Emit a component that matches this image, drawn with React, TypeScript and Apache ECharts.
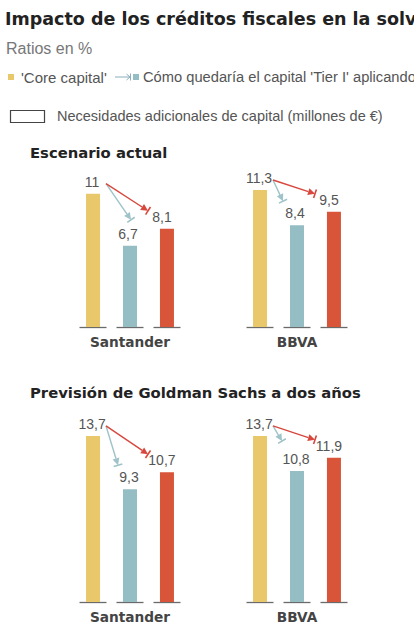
import React, { useEffect, useRef } from "react";
import * as echarts from "echarts";

const banks = ["Santander", "BBVA"];
// Escenario actual
const coreActual = [11, 11.3];
const tierActual = [6.7, 8.4];
const thirdActual = [8.1, 9.5];
// Previsión de Goldman Sachs a dos años
const coreGS = [13.7, 13.7];
const tierGS = [9.3, 10.8];
const thirdGS = [10.7, 11.9];

const titleText = "Impacto de los créditos fiscales en la solvencia";
const subtitleText = "Ratios en %";
const legendCore = "'Core capital'";
const legendTier = "Cómo quedaría el capital 'Tier I' aplicando";
const legendNeeds = "Necesidades adicionales de capital (millones de €)";
const panelTitles = ["Escenario actual", "Previsión de Goldman Sachs a dos años"];

const FONT = '"Liberation Sans", Arial, Helvetica, sans-serif';
const BOLD_FONT = '"DejaVu Sans", Verdana, sans-serif';
const YELLOW = "#E9C76B";
const TEAL = "#94BEC4";
const RED = "#D9553A";
const RED_ARROW = "#D8473D";
const TEAL_ARROW = "#9EC3C9";
const STEP = 37;
// offset of the teal arrow tip from the teal bar top, per panel/bank
const tealArrowDx = [
  [1, -14],
  [-12, -15],
];
const tealArrowDy = [
  [-26, -24],
  [-24, -30],
];

function fmt(v: number) {
  return String(v).replace(".", ",");
}

function arrow(s: number[], e: number[], color: string) {
  const dx = e[0] - s[0];
  const dy = e[1] - s[1];
  const L = Math.hypot(dx, dy) || 1;
  const ux = dx / L;
  const uy = dy / L;
  const px = -uy;
  const py = ux;
  const hl = 7;
  const hw = 3.5;
  const b = [e[0] - ux * hl, e[1] - uy * hl];
  return [
    {
      type: "line",
      shape: { x1: s[0], y1: s[1], x2: b[0], y2: b[1] },
      style: { stroke: color, lineWidth: 1.4 },
    },
    {
      type: "polygon",
      shape: {
        points: [
          [e[0], e[1]],
          [b[0] + px * hw, b[1] + py * hw],
          [b[0] - px * hw, b[1] - py * hw],
        ],
      },
      style: { fill: color },
    },
    {
      type: "line",
      shape: {
        x1: e[0] + px * 4.5,
        y1: e[1] + py * 4.5,
        x2: e[0] - px * 4.5,
        y2: e[1] - py * 4.5,
      },
      style: { stroke: color, lineWidth: 1.6 },
    },
  ];
}

function barSeries(values: number[], name: string, color: string, gi: number, offX: number) {
  return {
    type: "bar",
    name,
    xAxisIndex: gi,
    yAxisIndex: gi,
    data: values,
    barWidth: 14,
    barGap: "164%",
    silent: true,
    itemStyle: { color },
    label: {
      show: true,
      position: "top",
      distance: 5,
      offset: [offX, 0],
      color: "#555",
      fontSize: 14,
      fontFamily: FONT,
      formatter: (p: any) => fmt(p.value),
    },
  };
}

function baselineSeries(gi: number) {
  return {
    type: "custom",
    xAxisIndex: gi,
    yAxisIndex: gi,
    silent: true,
    clip: false,
    data: banks.map((_, i) => [i, 0]),
    renderItem: (_params: any, api: any) => {
      const c = api.coord([api.value(0), 0]);
      const children = [-1, 0, 1].map((k) => ({
        type: "line",
        shape: {
          x1: c[0] + k * STEP - 13.5,
          y1: c[1] + 0.5,
          x2: c[0] + k * STEP + 13.5,
          y2: c[1] + 0.5,
        },
        style: { stroke: "#6a6a6a", lineWidth: 1.3 },
      }));
      return { type: "group", children };
    },
  };
}

function arrowSeries(gi: number, core: number[], tier: number[], third: number[]) {
  return {
    type: "custom",
    xAxisIndex: gi,
    yAxisIndex: gi,
    silent: true,
    clip: false,
    z: 5,
    data: banks.map((_, i) => [i, core[i], tier[i], third[i]]),
    renderItem: (_params: any, api: any) => {
      const i = api.value(0);
      const c = api.coord([i, api.value(1)]);
      const t = api.coord([i, api.value(2)]);
      const r = api.coord([i, api.value(3)]);
      const s = [c[0] - STEP + 13, c[1] - 10];
      const te = [t[0] + tealArrowDx[gi][i], t[1] + tealArrowDy[gi][i]];
      const re = [r[0] + STEP - 19, r[1] - 18];
      return {
        type: "group",
        children: [...arrow(s, te, TEAL_ARROW), ...arrow(s, re, RED_ARROW)],
      };
    },
  };
}

export default function App() {
  const ref = useRef<HTMLDivElement>(null);
  useEffect(() => {
    if (!ref.current) return;
    const chart = echarts.init(ref.current, undefined, { renderer: "svg" });
    const grids = [
      { left: 46.5, width: 334, top: 157.3, height: 169.7 },
      { left: 46.5, width: 334, top: 432.3, height: 169.7 },
    ];
    const xAxes = grids.map((_, gi) => ({
      type: "category",
      gridIndex: gi,
      data: banks,
      axisLine: { show: false },
      axisTick: { show: false },
      axisLabel: {
        fontSize: 13.7,
        fontWeight: "bold",
        color: "#444",
        margin: 8,
        fontFamily: BOLD_FONT,
      },
    }));
    const yAxes = grids.map((_, gi) => ({
      type: "value",
      gridIndex: gi,
      min: 0,
      max: 14,
      show: false,
      splitLine: { show: false },
    }));
    const txt = (
      text: string,
      x: number,
      y: number,
      size: number,
      color: string,
      bold = false
    ) => ({
      type: "text",
      x,
      y,
      silent: true,
      style: {
        text,
        fill: color,
        fontSize: size,
        fontWeight: bold ? "bold" : "normal",
        fontFamily: bold ? BOLD_FONT : FONT,
        verticalAlign: "middle",
        align: "left",
      },
    });
    const option: any = {
      animation: false,
      backgroundColor: "#ffffff",
      grid: grids,
      xAxis: xAxes,
      yAxis: yAxes,
      graphic: [
        txt(titleText, 5, 19, 17.5, "#222", true),
        txt(subtitleText, 6, 48, 16, "#777"),
        { type: "rect", shape: { x: 8, y: 74, width: 6, height: 6 }, style: { fill: YELLOW }, silent: true },
        txt(legendCore, 21, 77, 15, "#555"),
        { type: "line", shape: { x1: 115, y1: 77, x2: 130, y2: 77 }, style: { stroke: "#8AAFBA", lineWidth: 1 }, silent: true },
        { type: "polyline", shape: { points: [[126.5, 74], [130, 77], [126.5, 80]] }, style: { stroke: "#8AAFBA", lineWidth: 1, fill: "none" }, silent: true },
        { type: "line", shape: { x1: 130.5, y1: 73.5, x2: 130.5, y2: 80.5 }, style: { stroke: "#8AAFBA", lineWidth: 1 }, silent: true },
        { type: "rect", shape: { x: 133, y: 74, width: 6, height: 6 }, style: { fill: TEAL }, silent: true },
        txt(legendTier, 143, 77, 14.7, "#555"),
        { type: "rect", shape: { x: 10.5, y: 110.5, width: 34, height: 12 }, style: { fill: "#fff", stroke: "#444", lineWidth: 1.2 }, silent: true },
        txt(legendNeeds, 57, 116, 14.5, "#555"),
        txt(panelTitles[0], 30, 152, 14.8, "#222", true),
        txt(panelTitles[1], 30, 392, 14.8, "#222", true),
      ],
      series: [
        barSeries(coreActual, "Core capital", YELLOW, 0, -1),
        barSeries(tierActual, "Tier I", TEAL, 0, -2),
        barSeries(thirdActual, "Tier I alternativo", RED, 0, -5),
        barSeries(coreGS, "Core capital", YELLOW, 1, -1),
        barSeries(tierGS, "Tier I", TEAL, 1, -1),
        barSeries(thirdGS, "Tier I alternativo", RED, 1, -5),
        baselineSeries(0),
        baselineSeries(1),
        arrowSeries(0, coreActual, tierActual, thirdActual),
        arrowSeries(1, coreGS, tierGS, thirdGS),
      ],
    };
    chart.setOption(option);
    return () => chart.dispose();
  }, []);
  return (
    <div
      ref={ref}
      style={{ position: "absolute", left: 0, top: 0, width: 414, height: 633, background: "#fff" }}
    />
  );
}
